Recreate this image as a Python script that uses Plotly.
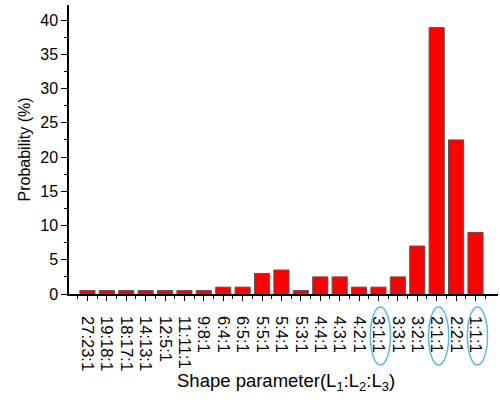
import plotly.graph_objects as go

labels = ["27:23:1", "19:18:1", "18:17:1", "14:13:1", "12:5:1", "11:11:1", "9:8:1",
          "6:4:1", "6:5:1", "5:5:1", "5:4:1", "5:3:1", "4:4:1", "4:3:1", "4:2:1",
          "3:1:1", "3:3:1", "3:2:1", "2:1:1", "2:2:1", "1:1:1"]
probability = [0.5, 0.5, 0.5, 0.5, 0.5, 0.5, 0.5, 1.0, 1.0, 3.0, 3.5, 0.5, 2.5, 2.5,
               1.0, 1.0, 2.5, 7.0, 38.9, 22.5, 9.0]
highlighted = ["3:1:1", "2:1:1", "1:1:1"]
y_ticks = [0, 5, 10, 15, 20, 25, 30, 35, 40]
x_title = "Shape parameter(L<sub>1</sub>:L<sub>2</sub>:L<sub>3</sub>)"
y_title = "Probability (%)"

xs = list(range(len(labels)))
font = "Liberation Sans, Arial, sans-serif"

fig = go.Figure()
fig.add_trace(go.Bar(
    x=xs, y=probability, width=0.78,
    marker=dict(color="#ff0000", line=dict(color="#555555", width=1)),
))

shapes = []
for lab in highlighted:
    i = labels.index(lab)
    shapes.append(dict(type="circle", xref="x", yref="paper",
                       x0=i - 0.42, x1=i + 0.62, y0=-0.246, y1=-0.045,
                       line=dict(color="#5cb8e6", width=1.5)))

fig.update_layout(
    width=500, height=403,
    margin=dict(l=69, r=2, t=5, b=109, autoexpand=False),
    paper_bgcolor="white", plot_bgcolor="white",
    showlegend=False,
    font=dict(family=font, color="black"),
    shapes=shapes,
    annotations=[dict(text=x_title, xref="paper", yref="paper", x=0.505, y=-0.305,
                      xanchor="center", yanchor="middle", showarrow=False,
                      font=dict(size=18.5, family=font, color="black"))],
    xaxis=dict(
        range=[-0.95, 21.16], tickmode="array", tickvals=xs, ticktext=labels,
        tickangle=90, ticks="outside", ticklen=5, tickwidth=1, tickcolor="black",
        ticklabelstandoff=12, automargin=False,
        showline=True, linecolor="black", linewidth=1.5, showgrid=False, zeroline=False,
        tickfont=dict(size=16.5, family=font),
        minor=dict(tickmode="linear", tick0=0.5, dtick=1, ticks="outside", ticklen=3,
                   tickcolor="black", showgrid=False),
    ),
    yaxis=dict(
        range=[0, 42.2], tickmode="array", tickvals=y_ticks,
        ticks="outside", ticklen=6, tickwidth=1, tickcolor="black",
        showline=True, linecolor="black", linewidth=1.5, showgrid=False, zeroline=False,
        automargin=False,
        tickfont=dict(size=16, family=font),
        minor=dict(tickmode="linear", tick0=2.5, dtick=5, ticks="outside", ticklen=3,
                   tickcolor="black", showgrid=False),
        title=dict(text=y_title, font=dict(size=16, family=font), standoff=6),
    ),
)

fig.write_html("out.html")
